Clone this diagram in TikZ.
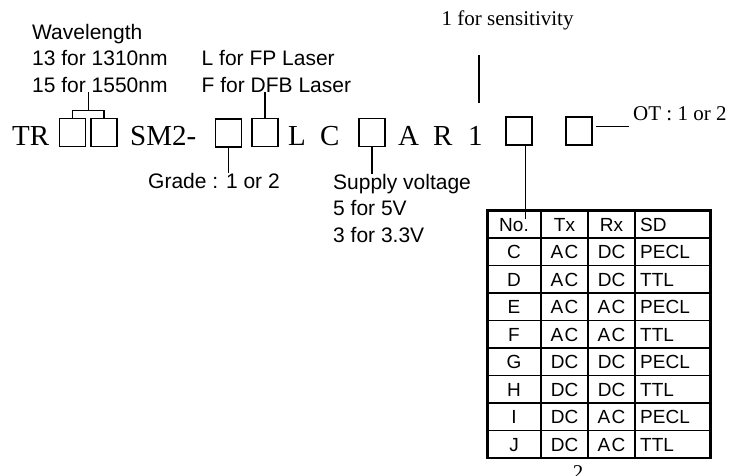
\documentclass[tikz,border=0pt]{standalone}
\usepackage{fontspec}
\setmainfont{Liberation Serif}
\setsansfont{Liberation Sans}
\usepackage{tikz}
\usetikzlibrary{positioning,calc}
\newcommand{\acgap}{A\kern1.5pt C}

\begin{document}
\begin{tikzpicture}[
    x=1pt, y=-1pt,
    slot/.style={draw, line width=1.4pt, minimum width=26pt, minimum height=28pt, inner sep=0pt},
    code/.style={font=\fontsize{29}{32}\selectfont, inner sep=0pt, anchor=base west},
    note/.style={font=\sffamily\fontsize{21}{26.5}\selectfont, align=left, inner sep=0pt, anchor=base west},
    rmnote/.style={font=\fontsize{21}{24}\selectfont, inner sep=0pt, anchor=base west},
    lead/.style={line width=1.3pt},
    cell/.style={font=\sffamily\fontsize{19}{21}\selectfont, inner sep=0pt, anchor=base}
]
\useasboundingbox (0,0) rectangle (731,475);

% part number
\node[code] (tr) at (12,145) {TR};
\node[slot] (b1) at (72.5,132.5) {};
\node[slot] (b2) at (104,132.5) {};
\node[code] (sm) at (130,145) {SM2-};
\node[slot] (b3) at (228.5,133) {};
\node[slot] (b4) at (265,132.5) {};
\node[code] (l) at (288,145) {L};
\node[code] (c) at (320,145) {C};
\node[slot] (b5) at (372,132.5) {};
\node[code] (a) at (398,145) {A};
\node[code] (r) at (433,145) {R};
\node[code] (one) at (468,145) {1};
\node[slot] (b6) at (519,131) {};
\node[slot] (b7) at (579,131) {};

% notes (anchored on the last line)
\node[note] (wave) at (32,92) {Wavelength\\13 for 1310nm\\15 for 1550nm};
\node[note] (laser) at (201.5,92) {L for FP Laser\\F for DFB Laser};
\node[note] (grade) at (148,188) {Grade : 1 or 2};
\node[note] (supply) at (333,242) {Supply voltage\\5 for 5V\\3 for 3.3V};
\node[rmnote] (sens) at (441.5,25) {1 for sensitivity};
\node[rmnote] (ot) at (633,120) {OT : 1 or 2};
\node[rmnote, anchor=base] (pagenum) at (578,479) {2};

% leads
\coordinate (wavetap) at (88.3,110.7);
\draw[lead] (b1.north) |- (wavetap) -| (b2.north);
\draw[lead] (wavetap) -- (wavetap |- wave.south);
\draw[lead] (b4.north) -- (b4.north |- laser.south);
\draw[lead] (b3.south) -- (b3.south |- grade.north);
\draw[lead] (b5.south) -- (b5.south |- supply.north);
\coordinate (sensup) at (479,55);
\coordinate (sensdown) at (479,103);
\draw[lead] (sensup) -- (sensdown);
\coordinate (otlead) at (629,126.7);
\draw[lead] ($(b7.east |- otlead)+(3,0)$) -- (otlead);
\coordinate (notap) at (525.5,219);
\draw[lead] (b6.south -| notap) -- (notap);

% code table
\node[draw, line width=2.4pt, minimum width=223pt, minimum height=247.5pt, inner sep=0pt] (codes) at (599,334.25) {};
\foreach \cx in {541,588,635}
  \draw[line width=2.4pt] (codes.north -| {(\cx,0)}) -- (codes.south -| {(\cx,0)});
\foreach \k in {1,...,8}
  \draw[line width=1.6pt] (codes.west |- {(0,210.5+27.5*\k)}) -- (codes.east |- {(0,210.5+27.5*\k)});
\foreach \no/\tx/\rx/\sd [count=\i] in {No./Tx/Rx/SD, C/\acgap/DC/PECL, D/\acgap/DC/TTL,
    E/\acgap/\acgap/PECL, F/\acgap/\acgap/TTL, G/DC/DC/PECL, H/DC/DC/TTL,
    I/DC/\acgap/PECL, J/DC/\acgap/TTL}
{
  \node[cell] (no-\i) at (514,{203.5+27.5*\i}) {\no};
  \node[cell] (tx-\i) at (564.5,{203.5+27.5*\i}) {\tx};
  \node[cell] (rx-\i) at (611.5,{203.5+27.5*\i}) {\rx};
  \node[cell, anchor=base west] (sd-\i) at (640,{203.5+27.5*\i}) {\sd};
}
\end{tikzpicture}
\end{document}
